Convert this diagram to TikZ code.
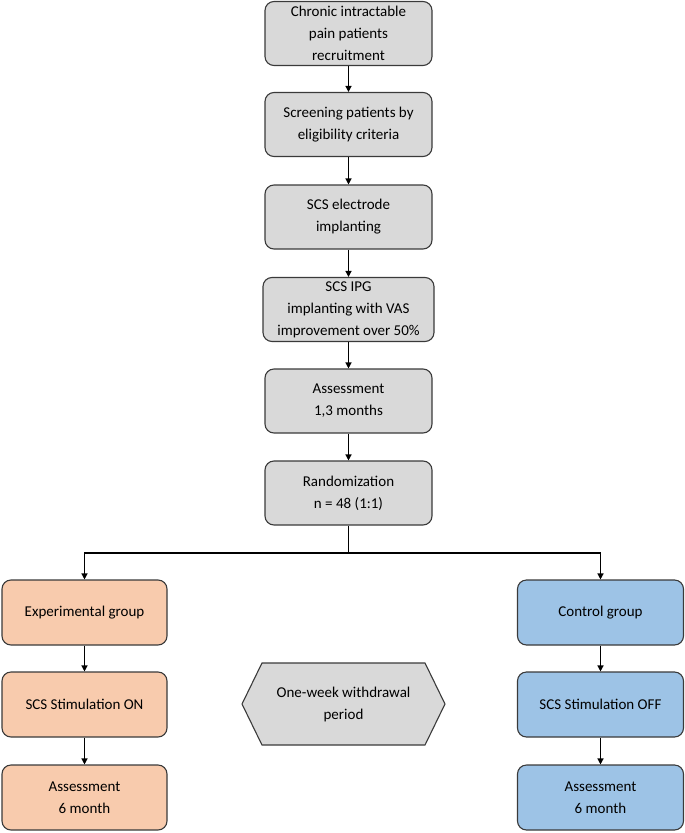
\documentclass[tikz,border=0pt]{standalone}
\usepackage{fontspec}
\setmainfont{Carlito}
\usetikzlibrary{arrows.meta}
\definecolor{greyfill}{HTML}{D9D9D9}
\definecolor{orangefill}{HTML}{F8CBAD}
\definecolor{bluefill}{HTML}{9DC3E6}
\definecolor{edge}{HTML}{3A3A3A}
\tikzset{
  box/.style={draw=edge, line width=1.1pt, rounded corners=9pt, align=center,
    minimum width=167pt, minimum height=64pt, inner sep=2pt,
    font=\fontsize{15}{22}\selectfont},
  greybox/.style={box, fill=greyfill},
  orangebox/.style={box, fill=orangefill, minimum width=165pt, minimum height=65pt},
  bluebox/.style={box, fill=bluefill, minimum width=166pt, minimum height=65pt},
  arr/.style={line width=1.3pt, -{Triangle[length=6pt,width=6pt]}},
  ln/.style={line width=1.3pt}
}
\begin{document}
\begin{tikzpicture}[x=1pt,y=-1pt]
\useasboundingbox (0,0) rectangle (685,833);
\node[greybox] (n1) at (348.5,33.5) {Chronic intractable\\pain patients\\recruitment};
\node[greybox] (n2) at (348.5,124.5) {Screening patients by\\eligibility criteria};
\node[greybox] (n3) at (348.5,217) {SCS electrode\\implanting};
\node[greybox, minimum width=171pt] (n4) at (348.5,309.5) {SCS IPG\\implanting with VAS\\improvement over 50\%};
\node[greybox] (n5) at (348.5,401) {Assessment\\1,3 months};
\node[greybox] (n6) at (348.5,493) {Randomization\\n = 48 (1:1)};
\node[orangebox] (l1) at (84.5,612.5) {Experimental group};
\node[orangebox] (l2) at (84.5,704.5) {SCS Stimulation ON};
\node[orangebox] (l3) at (84.5,797.5) {Assessment\\6 month};
\node[bluebox] (r1) at (600.5,612.5) {Control group};
\node[bluebox] (r2) at (600.5,704.5) {SCS Stimulation OFF};
\node[bluebox] (r3) at (600.5,797.5) {Assessment\\6 month};
\draw[draw=edge, line width=1.1pt, fill=greyfill] (242,704) -- (262,663) -- (425,663) -- (445,704) -- (425,745) -- (262,745) -- cycle;
\node[align=center, font=\fontsize{15}{22}\selectfont] (hex) at (343.5,704) {One-week withdrawal\\period};
\draw[arr] (n1) -- (n2);
\draw[arr] (n2) -- (n3);
\draw[arr] (n3) -- (n4);
\draw[arr] (n4) -- (n5);
\draw[arr] (n5) -- (n6);
\coordinate (split) at (348.5,553);
\draw[ln] (n6.south) -- (split);
\draw[arr] (split) -| (l1.north);
\draw[arr] (split) -| (r1.north);
\draw[arr] (l1) -- (l2);
\draw[arr] (l2) -- (l3);
\draw[arr] (r1) -- (r2);
\draw[arr] (r2) -- (r3);
\end{tikzpicture}
\end{document}
